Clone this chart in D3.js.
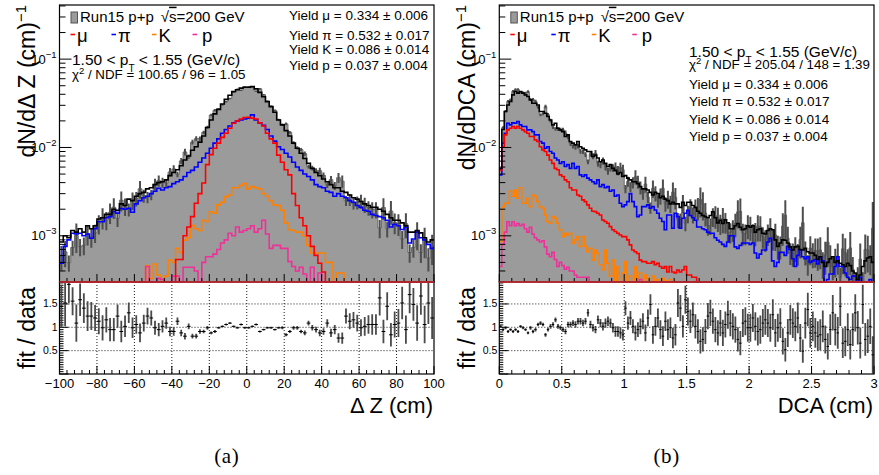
<!DOCTYPE html>
<html><head><meta charset="utf-8">
<script src="https://cdn.jsdelivr.net/npm/d3@7"></script>
<style>body{margin:0;background:#fff}svg{display:block}text{font-family:"Liberation Sans",Arial,Helvetica,sans-serif;fill:#000}</style>
</head><body><svg id="c" width="879" height="475"></svg>
<script>
// ---------------- Panel (a): Delta Z, 100 bins from -100 to 100 ----------------
const dzRange = [-100, 100];
const dzTicks = [-100, -80, -60, -40, -20, 0, 20, 40, 60, 80, 100];
const fitA = [0.00085,0.0010,0.00095,0.00115,0.0011,0.0012,0.0011,0.0013,0.0012,0.0013,
 0.00155,0.0016,0.00175,0.00175,0.0020,0.00195,0.0023,0.0022,0.0026,0.0025,
 0.0028,0.0030,0.0031,0.0034,0.0035,0.0038,0.0040,0.0041,0.0043,0.0048,
 0.0052,0.0056,0.0062,0.0072,0.0080,0.0093,0.0102,0.0115,0.0135,0.0168,
 0.0205,0.024,0.027,0.031,0.035,0.039,0.043,0.045,0.047,0.048,
 0.048,0.049,0.046,0.042,0.0375,0.033,0.029,0.025,0.0205,0.018,
 0.0155,0.0135,0.0112,0.0098,0.0086,0.0075,0.0066,0.0058,0.0052,0.0048,
 0.0044,0.0041,0.0038,0.0035,0.0035,0.0032,0.0031,0.0029,0.0027,0.0026,
 0.00245,0.0023,0.0022,0.0021,0.0021,0.0020,0.0019,0.00175,0.0016,0.0015,
 0.0015,0.0014,0.0013,0.0011,0.0011,0.00115,0.00108,0.00095,0.00085,0.0009];
const piA = [0.00049,0.00076,0.0009,0.00107,0.00105,0.00107,0.0010,0.00105,0.00094,0.0012,
 0.00144,0.00144,0.0016,0.00165,0.00187,0.0018,0.00204,0.0020,0.00205,0.00185,
 0.0023,0.0025,0.0027,0.0028,0.0030,0.0032,0.00346,0.0033,0.0035,0.0036,
 0.0039,0.0041,0.0043,0.0047,0.0052,0.0055,0.0060,0.0068,0.0076,0.0086,
 0.0098,0.0112,0.0125,0.0145,0.016,0.0175,0.019,0.0198,0.0205,0.021,
 0.0214,0.0234,0.0205,0.019,0.0178,0.016,0.0135,0.0118,0.0102,0.0095,
 0.0086,0.0078,0.0068,0.0060,0.0055,0.0050,0.0047,0.0043,0.0038,0.0036,
 0.0035,0.0032,0.0031,0.0028,0.0030,0.0028,0.0027,0.0025,0.0024,0.0022,
 0.0021,0.00195,0.0019,0.00175,0.0017,0.00165,0.0016,0.0015,0.00126,0.00135,
 0.0013,0.00118,0.00125,0.00083,0.00092,0.0011,0.00095,0.0009,0.0008,0.00072];
const muA = [0,0,0,0,0,0,0,0,0,0, 0,0,0,0,0,0,0,0,0,0, 0,0,0,0,0,0,0,0,0,0,
 0,0.00054,0.00054,0.0010,0.00126,0.00165,0.00234,0.0030,0.00396,0.0064,
 0.0083,0.0098,0.0112,0.013,0.0145,0.0165,0.0188,0.020,0.021,0.0218,
 0.022,0.0215,0.021,0.019,0.0175,0.0145,0.0125,0.0112,0.0082,0.0068,
 0.0056,0.0049,0.0030,0.0022,0.0016,0.0013,0.0010,0.00076,0.0006,0.00049,
 0.00039,0,0,0,0,0,0,0,0,0, 0,0,0,0,0,0,0,0,0,0, 0,0,0,0,0,0,0,0,0,0];
const kA = [0,0,0,0,0,0,0,0,0,0, 0,0,0,0,0,0,0,0,0,0, 0,0,0,
 0.00046,0.00033,0.00048,0.00036,0.00032,0.00035,0.00053,
 0.0005,0.00072,0.00065,0.00089,0.00095,0.00131,0.0012,0.00115,0.0015,0.00145,
 0.00187,0.0018,0.00224,0.0024,0.00278,0.0029,0.0035,0.0035,0.0037,0.0039,
 0.0034,0.0036,0.0035,0.0034,0.0030,0.0028,0.0025,0.00224,0.0022,0.00195,
 0.0014,0.00117,0.00115,0.0011,0.0011,0.0010,0.00078,0.00064,0.00064,0.00064,
 0.00064,0.0005,0.0005,0,0.00038,0.00038,0,0,0,0,
 0,0,0,0,0,0,0,0,0,0, 0,0,0,0,0,0,0,0,0,0, 0,0,0,0];
const pA = [0,0,0,0,0,0,0,0,0,0, 0,0,0,0,0,0,0,0,0,0, 0,0,0,
 0.00045,0,0,0.00033,0.00032,0,0,
 0.00035,0.00035,0,0.00044,0.00044,0.00044,0.0004,0,0.0005,0.00058,
 0.00058,0.00062,0.0007,0.00083,0.0009,0.00107,0.001,0.00126,0.0011,0.00115,
 0.0012,0.0013,0.0011,0.0012,0.0015,0.00105,0.00072,0.00078,0.00078,0.00072,
 0.00072,0.00051,0.00045,0.0004,0.00044,0.00037,0,0.00044,0,0.00038,
 0,0,0,0,0,0,0,0,0,0, 0,0,0,0,0,0,0,0,0,0, 0,0,0,0,0,0,0,0,0,0];
const ratioA = [1.45,1.52,1.92,1.56,1.09,1.59,1.41,1.24,1.24,1.2,
 1.13,0.99,1.16,0.95,0.95,1.24,0.91,1.02,1.31,0.99,
 1.06,0.88,1.09,1.24,1.2,0.99,0.95,1.02,1.09,0.91,
 0.91,1.13,0.88,0.81,1.02,0.81,0.81,0.91,0.91,0.99,
 0.88,0.91,0.99,1.02,1.06,1.09,1.02,0.99,1.06,0.99,
 0.99,1.02,1.06,0.91,0.95,0.99,0.99,0.95,0.99,0.99,
 0.84,0.91,0.99,0.99,0.91,0.88,1.09,0.99,0.95,0.88,
 0.91,1.09,0.88,0.95,0.77,0.77,1.24,1.13,1.16,1.09,
 0.99,1.02,1.06,1.06,1.06,1.63,0.91,1.45,0.84,1.06,
 1.09,1.52,0.95,1.7,1.49,1.09,1.67,1.06,1.52,1.2];
const ratioErrA = [0.45,0.5,0.4,0.3,0.4,0.35,0.32,0.32,0.3,0.28,
 0.28,0.27,0.27,0.25,0.25,0.25,0.23,0.23,0.22,0.22,
 0.2,0.2,0.18,0.18,0.16,0.15,0.14,0.13,0.12,0.1,
 0.09,0.08,0.07,0.07,0.06,0.05,0.05,0.05,0.04,0.04,
 0.03,0.03,0.02,0.02,0.02,0.02,0.02,0.02,0.02,0.02,
 0.02,0.02,0.02,0.02,0.02,0.02,0.02,0.02,0.02,0.03,
 0.03,0.03,0.04,0.04,0.04,0.05,0.05,0.06,0.06,0.07,
 0.07,0.08,0.09,0.1,0.1,0.12,0.16,0.17,0.17,0.18,
 0.18,0.2,0.2,0.22,0.22,0.38,0.25,0.3,0.25,0.28,
 0.3,0.35,0.3,0.4,0.35,0.38,0.4,0.4,0.45,0.45];

// ---------------- Panel (b): DCA, 150 bins from 0 to 3 ----------------
const dcaRange = [0, 3];
const dcaTicks = [0, 0.5, 1, 1.5, 2, 2.5, 3];
const fitB = [0.0058,0.016,0.0255,0.0303,0.0331,0.0394,0.043,0.0412,0.043,0.0412,
 0.0394,0.0378,0.0346,0.0317,0.0317,0.0303,0.0255,0.0255,0.0244,0.0224,
 0.0205,0.018,0.0188,0.0165,0.0158,0.0151,0.0133,0.0139,0.0117,0.0112,
 0.0107,0.0117,0.0102,0.0098,0.0094,0.009,0.009,0.0079,0.0082,0.0076,
 0.0069,0.0072,0.0066,0.0061,0.0064,0.0058,0.0055,0.005,0.0052,0.0047,
 0.0048,0.0045,0.0043,0.0041,0.0041,0.0039,0.0036,0.0034,0.0034,0.0033,
 0.0031,0.0029,0.0031,0.003,0.0027,0.0028,0.0026,0.0025,0.0023,0.0024,
 0.0023,0.0023,0.0021,0.0024,0.0022,0.0024,0.0024,0.0022,0.0021,0.0019,
 0.0018,0.0017,0.00165,0.0016,0.0017,0.00187,0.0016,0.0014,0.0015,0.00138,
 0.00152,0.0014,0.0012,0.0012,0.0013,0.00138,0.00125,0.00117,0.0012,0.0013,
 0.00125,0.0013,0.0011,0.00117,0.0012,0.00107,0.00105,0.00115,0.0012,0.00117,
 0.0009,0.00076,0.00083,0.0009,0.00089,0.00083,0.00075,0.00069,0.00075,0.00076,
 0.0007,0.00069,0.00072,0.00066,0.00064,0.00064,0.0006,0.00054,0.00058,0.0005,
 0.00045,0.0005,0.00055,0.00058,0.0005,0.00052,0.00049,0.00047,0.00045,0.00049,
 0.00046,0.0004,0.00038,0.00032,0.00036,0.00045,0.00052,0.00056,0.00058,0.0005];
const piB = [0.0049,0.0112,0.0145,0.0188,0.018,0.019,0.0188,0.0197,0.018,0.0173,
 0.0173,0.0158,0.0158,0.0151,0.0139,0.0139,0.0117,0.0112,0.0098,0.0102,
 0.009,0.0086,0.0076,0.0072,0.0066,0.0069,0.0061,0.0064,0.0058,0.0066,
 0.0058,0.0061,0.0049,0.0047,0.0049,0.0045,0.0043,0.0041,0.0039,0.0043,
 0.0036,0.0038,0.0035,0.0036,0.0032,0.0033,0.0028,0.0029,0.00234,0.00214,
 0.00224,0.00244,0.003,0.00244,0.00214,0.00165,0.00172,0.00214,0.00214,0.00224,
 0.00205,0.00214,0.00196,0.0018,0.00158,0.00145,0.00117,0.00172,0.00172,0.00122,
 0.0018,0.00165,0.00122,0.00158,0.0018,0.00195,0.0017,0.0016,0.0015,0.00126,
 0.00126,0.0012,0.00117,0.0011,0.00107,0.00107,0.00095,0.00089,0.00085,0.0008,
 0.00076,0.00085,0.001,0.001,0.00075,0.00072,0.00078,0.00083,0.00083,0.00083,
 0.0008,0.00083,0.00064,0.00056,0.00062,0.00069,0.00069,0.00085,0.00094,0.00052,
 0.00045,0.0005,0.00065,0.00065,0.0006,0.00076,0.0007,0.00055,0.00045,0.0006,
 0.00069,0.00058,0.00055,0.00058,0.0005,0.00052,0.00054,0.00048,0.00058,0.00052,
 0.00028,0.00032,0.00037,0.00037,0.00045,0.00058,0.00045,0.00045,0.00038,0.00034,
 0.00032,0.00035,0.00035,0.00028,0.00034,0.00028,0.00028,0.00028,0.00032,0.00028];
const muB = [0.0055,0.0102,0.0139,0.0158,0.0165,0.0173,0.0165,0.0173,0.0165,0.0158,
 0.0151,0.0145,0.0133,0.0133,0.0122,0.0117,0.0102,0.0094,0.009,0.0082,
 0.0072,0.0066,0.0058,0.0056,0.0049,0.0047,0.0043,0.0041,0.0035,0.0033,
 0.0033,0.0029,0.0028,0.00255,0.00244,0.00224,0.00205,0.0019,0.00188,0.0018,
 0.00172,0.00151,0.00145,0.00139,0.00127,0.00117,0.00112,0.00107,0.00102,0.00098,
 0.00098,0.0009,0.00079,0.00069,0.00066,0.00063,0.00053,0.00051,0.00051,0.00049,
 0.00049,0.00051,0.00047,0.00049,0.00045,0.00043,0.00045,0.00039,0.00045,0.00039,
 0.00038,0.00041,0.00039,0.00041,0.00045,0.00036,0.00036,0.00034,0.00034,0,
 0,0,0,0,0,0,0,0,0,0, 0,0,0,0,0,0,0,0,0,0, 0,0,0,0,0,0,0,0,0,0,
 0,0,0,0,0,0,0,0,0,0, 0,0,0,0,0,0,0,0,0,0, 0,0,0,0,0,0,0,0,0,0,
 0,0,0,0,0,0,0,0,0,0, 0,0,0,0,0,0,0,0,0,0];
const kB = [0.00086,0.00214,0.00234,0.00234,0.0032,0.0028,0.0033,0.00266,0.0035,0.00234,
 0.00234,0.00266,0.00214,0.0029,0.0028,0.00244,0.00214,0.00205,0.00172,0.00145,
 0.00139,0.00165,0.00158,0.00139,0.00117,0.00098,0.00107,0.00102,0.00107,0.00082,
 0.0009,0.00098,0.00076,0.00098,0.00076,0.00066,0.00072,0.00053,0.00069,0.00063,
 0.00047,0.00041,0.00069,0.00049,0.00035,0.00053,0,0.00045,0,0.00038,
 0.00051,0,0.00035,0,0.00045,0.00033,0.00038,0,0.00036,0.00033,
 0,0.00035,0,0.00032,0,0.00033,0.00031,0,0.00032,0,
 0,0,0,0,0,0,0,0,0,0, 0,0,0,0,0,0,0,0,0,0, 0,0,0,0,0,0,0,0,0,0,
 0,0,0,0,0,0,0,0,0,0, 0,0,0,0,0,0,0,0,0,0, 0,0,0,0,0,0,0,0,0,0,
 0,0,0,0,0,0,0,0,0,0, 0,0,0,0,0,0,0,0,0,0];
const pB = [0.00045,0.0008,0.0011,0.00144,0.0013,0.00144,0.0013,0.00138,0.0013,0.00135,
 0.0012,0.0011,0.00125,0.00105,0.00095,0.0009,0.00085,0.00088,0.00075,0.00062,
 0.00058,0.00065,0.00054,0.00045,0.0005,0.00046,0.00042,0.00044,0.0004,0.0004,
 0.00036,0.00034,0.00034,0.00034,0.00034,0.00034,0,0,0,0,
 0,0,0,0,0,0,0,0,0,0, 0,0,0,0,0,0,0.00032,0,0,0,
 0,0,0,0,0,0,0,0,0,0, 0,0,0,0,0,0,0,0,0,0, 0,0,0,0,0,0,0,0,0,0,
 0,0,0,0,0,0,0,0,0,0, 0,0,0,0,0,0,0,0,0,0, 0,0,0,0,0,0,0,0,0,0,
 0,0,0,0,0,0,0,0,0,0, 0,0,0,0,0,0,0,0,0,0, 0,0,0,0,0,0,0,0,0,0];
const ratioB = [1.02,0.95,0.99,0.91,0.95,0.91,0.95,0.91,1.02,0.99,
 0.95,0.88,0.99,0.91,0.95,1.06,1.09,1.06,0.84,0.95,
 1.02,1.06,1.16,1.02,0.99,0.95,0.91,1.06,1.06,1.09,
 1.06,1.13,1.13,1.09,1.13,1.31,1.06,0.99,0.95,1.16,
 1.09,1.02,1.09,1.13,1.09,0.99,0.91,0.91,0.88,0.84,
 1.41,1.09,1.2,1.02,0.88,0.95,1.02,1.13,0.88,1.2,
 1.49,0.84,1.02,1.2,0.95,0.81,1.13,0.95,0.99,0.77,
 0.84,1.52,1.41,1.02,1.59,1.34,1.13,1.27,1.02,0.91,
 0.7,0.74,0.91,1.24,1.31,1.13,0.95,0.88,1.09,0.88,
 1.06,1.27,1.09,1.02,0.95,0.74,0.66,1.09,1.13,0.99,
 0.99,1.2,1.02,0.91,0.95,1.09,1.16,1.09,0.99,1.27,
 0.88,0.99,1.09,0.7,0.52,0.88,1.16,1.09,1.02,1.2,
 0.77,0.49,1.09,1.38,0.88,1.02,0.88,0.81,0.84,1.02,
 0.74,0.59,0.95,1.31,0.95,0.88,1.45,0.66,0.7,0.95,
 0.63,0.95,1.31,0.99,0.66,1.49,0.74,0.81,1.02,0.41];
const ratioErrB = [0.03,0.03,0.03,0.03,0.03,0.03,0.03,0.03,0.03,0.03,
 0.03,0.03,0.04,0.04,0.04,0.04,0.04,0.04,0.04,0.04,
 0.05,0.05,0.05,0.05,0.05,0.05,0.06,0.06,0.06,0.06,
 0.07,0.07,0.07,0.07,0.07,0.08,0.08,0.08,0.08,0.09,
 0.09,0.09,0.1,0.1,0.1,0.1,0.11,0.11,0.12,0.12,
 0.15,0.14,0.15,0.15,0.16,0.16,0.17,0.17,0.18,0.18,
 0.22,0.19,0.2,0.2,0.2,0.21,0.21,0.22,0.22,0.22,
 0.23,0.3,0.28,0.24,0.3,0.3,0.25,0.26,0.26,0.26,
 0.26,0.26,0.27,0.28,0.28,0.27,0.27,0.27,0.28,0.28,
 0.28,0.3,0.28,0.28,0.28,0.26,0.26,0.3,0.3,0.3,
 0.3,0.3,0.3,0.3,0.3,0.3,0.32,0.3,0.3,0.33,
 0.3,0.3,0.32,0.28,0.25,0.3,0.32,0.32,0.32,0.33,
 0.3,0.25,0.33,0.36,0.32,0.32,0.32,0.32,0.33,0.34,
 0.3,0.28,0.33,0.38,0.34,0.34,0.42,0.32,0.32,0.35,
 0.32,0.35,0.4,0.36,0.33,0.42,0.35,0.36,0.38,0.4];

// ---------------- Text ----------------
const yieldLines = ["Yield \u03bc = 0.334 \u00b1 0.006","Yield \u03c0 = 0.532 \u00b1 0.017","Yield K = 0.086 \u00b1 0.014","Yield p = 0.037 \u00b1 0.004"];
const legendNames = ["\u03bc","\u03c0","K","p"];
const colors = {mu:"#ff0000", pi:"#0000ff", k:"#ff8000", p:"#f0309a"};

// ---------------- Drawing ----------------
const svg = d3.select("#c");
const TOP = 5, MID = 282, BOT = 374;
const yTop = d3.scaleLog().domain([3.0e-4, 0.41]).range([MID, TOP]);
const yRat = d3.scaleLinear().domain([0, 1.97]).range([BOT, MID]);
const defs = svg.append("defs");

function panel(o) {
  const x = d3.scaleLinear().domain(o.range).range([o.L, o.R]);
  const n = o.fit.length;
  const w = (o.range[1] - o.range[0]) / n;
  const edges = d3.range(n + 1).map(i => o.range[0] + i * w);
  const centers = d3.range(n).map(i => o.range[0] + (i + 0.5) * w);
  const ymin = yTop.domain()[0];
  const yc = v => v <= ymin ? MID : Math.max(TOP - 2, yTop(v));

  const data = o.fit.map((f, i) => f / o.ratio[i]);
  const dataErr = data.map((d, i) => d * o.ratioErr[i] / o.ratio[i]);

  defs.append("clipPath").attr("id", "ct" + o.id).append("rect")
    .attr("x", o.L).attr("y", TOP).attr("width", o.R - o.L).attr("height", MID - TOP + 1.5);
  defs.append("clipPath").attr("id", "cr" + o.id).append("rect")
    .attr("x", o.L).attr("y", MID).attr("width", o.R - o.L).attr("height", BOT - MID);

  // ----- top pad
  const gt = svg.append("g").attr("clip-path", `url(#ct${o.id})`);
  const pts = arr => arr.map((v, i) => [edges[i], v]).concat([[edges[n], arr[n - 1]]]);
  const area = d3.area().curve(d3.curveStepAfter).x(d => x(d[0])).y0(MID).y1(d => yc(d[1]));
  const line = d3.line().curve(d3.curveStepAfter).x(d => x(d[0])).y(d => yc(d[1]));
  gt.append("path").attr("d", area(pts(data))).attr("fill", "#9b9b9b");
  gt.append("path").attr("d", line(pts(data))).attr("fill", "none").attr("stroke", "#6a6a6a").attr("stroke-width", 1);
  gt.selectAll("line.de").data(centers).join("line").attr("class", "de")
    .attr("x1", c => x(c)).attr("x2", c => x(c))
    .attr("y1", (c, i) => yc(Math.max(data[i] - dataErr[i], 1e-9)))
    .attr("y2", (c, i) => yc(data[i] + dataErr[i]))
    .attr("stroke", "#4e4e4e").attr("stroke-width", 2);
  [[o.pi, colors.pi], [o.k, colors.k], [o.p, colors.p], [o.mu, colors.mu]].forEach(([arr, col]) => {
    gt.append("path").attr("d", line(pts(arr))).attr("fill", "none").attr("stroke", col).attr("stroke-width", 1.6);
  });
  gt.append("path").attr("d", line(pts(o.fit))).attr("fill", "none").attr("stroke", "#000").attr("stroke-width", 1.6);

  // frame top
  svg.append("rect").attr("x", o.L).attr("y", TOP).attr("width", o.R - o.L).attr("height", MID - TOP)
    .attr("fill", "none").attr("stroke", "#000").attr("stroke-width", 1.2);

  // log y ticks
  const ga = svg.append("g").attr("stroke", "#000").attr("stroke-width", 1);
  for (let e = -4; e <= 0; e++) for (let k = 1; k <= 9; k++) {
    const v = k * Math.pow(10, e);
    if (v < yTop.domain()[0] || v > yTop.domain()[1]) continue;
    const yy = yTop(v);
    ga.append("line").attr("x1", o.L).attr("x2", o.L + (k === 1 ? 12 : 6)).attr("y1", yy).attr("y2", yy);
    if (k === 1) {
      const t = svg.append("text").attr("x", o.L - 3).attr("y", yy + 4.5).attr("text-anchor", "end").attr("font-size", 13);
      t.append("tspan").text("10");
      t.append("tspan").attr("dy", -6).attr("font-size", 9.5).text("\u2212" + (-e));
    }
  }
  // x ticks (top pad bottom, ratio bottom)
  const majors = o.ticks;
  const minorStep = (majors[1] - majors[0]) / o.minorDiv;
  const minors = d3.range(o.range[0], o.range[1] + minorStep / 2, minorStep);
  minors.forEach(v => {
    const isMaj = majors.some(m => Math.abs(m - v) < 1e-9);
    const len = isMaj ? 8 : 4;
    ga.append("line").attr("x1", x(v)).attr("x2", x(v)).attr("y1", MID).attr("y2", MID - len);
    ga.append("line").attr("x1", x(v)).attr("x2", x(v)).attr("y1", BOT).attr("y2", BOT - len);
  });

  // ----- ratio pad
  const gr = svg.append("g");
  majors.filter(v => v > o.range[0] && v < o.range[1]).forEach(v => {
    gr.append("line").attr("x1", x(v)).attr("x2", x(v)).attr("y1", MID).attr("y2", BOT)
      .attr("stroke", "#000").attr("stroke-width", 0.9).attr("stroke-dasharray", "1,2");
  });
  [0.5, 1, 1.5].forEach(v => {
    gr.append("line").attr("x1", o.L).attr("x2", o.R).attr("y1", yRat(v)).attr("y2", yRat(v))
      .attr("stroke", "#000").attr("stroke-width", 0.9).attr("stroke-dasharray", "1,2");
  });
  const gp = svg.append("g").attr("clip-path", `url(#cr${o.id})`);
  gp.selectAll("line.re").data(centers).join("line").attr("class", "re")
    .attr("x1", c => x(c)).attr("x2", c => x(c))
    .attr("y1", (c, i) => yRat(o.ratio[i] - o.ratioErr[i]))
    .attr("y2", (c, i) => yRat(o.ratio[i] + o.ratioErr[i]))
    .attr("stroke", "#4a4a4a").attr("stroke-width", 1.8);
  gp.selectAll("line.rh").data(centers).join("line").attr("class", "rh")
    .attr("x1", (c, i) => x(edges[i])).attr("x2", (c, i) => x(edges[i + 1]))
    .attr("y1", (c, i) => yRat(o.ratio[i])).attr("y2", (c, i) => yRat(o.ratio[i]))
    .attr("stroke", "#000").attr("stroke-width", 1);
  svg.append("rect").attr("x", o.L).attr("y", MID).attr("width", o.R - o.L).attr("height", BOT - MID)
    .attr("fill", "none").attr("stroke", "#000").attr("stroke-width", 1.2);
  // clamped (zero) histogram bins lie on the bottom edge of the top pad
  svg.append("line").attr("x1", o.L).attr("x2", o.R).attr("y1", MID).attr("y2", MID)
    .attr("stroke", "#e0303a").attr("stroke-width", 1.4);
  // ratio y ticks
  d3.range(0, 1.96, 0.05).forEach(v => {
    const maj = Math.abs(v / 0.5 - Math.round(v / 0.5)) < 1e-6;
    ga.append("line").attr("x1", o.L).attr("x2", o.L + (maj ? 9 : 4)).attr("y1", yRat(v)).attr("y2", yRat(v));
  });
  [0.5, 1, 1.5].forEach(v => {
    svg.append("text").attr("x", o.L - 2).attr("y", yRat(v) + 3.5).attr("text-anchor", "end")
      .attr("font-size", 10.5).text(String(v));
  });
  majors.forEach(v => {
    svg.append("text").attr("x", x(v)).attr("y", 388).attr("text-anchor", "middle").attr("font-size", 13)
      .text(v < 0 ? "\u2212" + (-v) : String(v));
  });

  // ----- titles
  const yt = svg.append("text").attr("transform", `translate(${o.L - 24.5},${TOP}) rotate(-90)`)
    .attr("text-anchor", "end").attr("font-size", 23);
  yt.append("tspan").text(o.ytitle + " (cm)");
  yt.append("tspan").attr("dy", -9).attr("font-size", 15).text("\u22121");
  svg.append("text").attr("transform", `translate(${o.L - 24.5},${(MID + BOT) / 2}) rotate(-90)`)
    .attr("text-anchor", "middle").attr("font-size", 23).text("fit / data");
  svg.append("text").attr("x", o.R - 1).attr("y", 413).attr("text-anchor", "end").attr("font-size", 22).text(o.xtitle);
  svg.append("text").attr("x", (o.L + o.R) / 2 - 20).attr("y", 463).attr("text-anchor", "middle")
    .attr("font-size", 21).attr("letter-spacing", 0.6).style("font-family", "'Liberation Serif','DejaVu Serif',serif").text(o.tag);

  // ----- legend
  const lx = o.L;
  svg.append("rect").attr("x", lx + 11.5).attr("y", 12).attr("width", 6.5).attr("height", 11)
    .attr("fill", "#9b9b9b").attr("stroke", "#555").attr("stroke-width", 1);
  const lt = svg.append("text").attr("x", lx + 20.5).attr("y", 21.7).attr("font-size", 15);
  lt.append("tspan").text("Run15 p+p");
  lt.append("tspan").attr("dx", 7).text("\u221a");
  lt.append("tspan").attr("text-decoration", "overline").text("s");
  lt.append("tspan").text("=200 GeV");
  const legX = [11, 52, 92.5, 133];
  const legCol = [colors.mu, colors.pi, colors.k, colors.p];
  legendNames.forEach((nm, i) => {
    svg.append("line").attr("x1", lx + legX[i]).attr("x2", lx + legX[i] + 4.5).attr("y1", 34.5).attr("y2", 34.5)
      .attr("stroke", legCol[i]).attr("stroke-width", 1.6);
    svg.append("text").attr("x", lx + legX[i] + 6.5 + (i === 3 ? 3 : 0)).attr("y", 42).attr("font-size", 18.5).text(nm);
  });

  // ----- fit info
  const pt = svg.append("text").attr("x", o.ptX).attr("y", o.ptY).attr("font-size", 15.5);
  pt.append("tspan").text("1.50 < p");
  pt.append("tspan").attr("dy", 7).attr("font-size", 10).text("T");
  pt.append("tspan").attr("dy", -7).text(" < 1.55 (GeV/c)");
  const ct = svg.append("text").attr("x", o.ptX).attr("y", o.chiY).attr("font-size", 13.3);
  ct.append("tspan").text("\u03c7");
  ct.append("tspan").attr("dy", -5).attr("font-size", 9.5).text("2");
  ct.append("tspan").attr("dy", 5).text(o.chi);
  yieldLines.forEach((s, i) => {
    svg.append("text").attr("x", o.yX).attr("y", o.yY[i]).attr("font-size", 13.5).text(s);
  });
}

panel({id: "a", L: 59.5, R: 434, range: dzRange, ticks: dzTicks, minorDiv: 5,
  fit: fitA, pi: piA, mu: muA, k: kA, p: pA, ratio: ratioA, ratioErr: ratioErrA,
  ytitle: "dN/d\u0394 Z", xtitle: "\u0394 Z (cm)", tag: "(a)",
  ptX: 72, ptY: 65, chiY: 78.5, chi: " / NDF = 100.65 / 96 = 1.05",
  yX: 289, yY: [20, 39.5, 53.5, 70]});
panel({id: "b", L: 499.3, R: 874, range: dcaRange, ticks: dcaTicks, minorDiv: 5,
  fit: fitB, pi: piB, mu: muB, k: kB, p: pB, ratio: ratioB, ratioErr: ratioErrB,
  ytitle: "dN/dDCA", xtitle: "DCA (cm)", tag: "(b)",
  ptX: 689, ptY: 56.5, chiY: 69, chi: " / NDF = 205.04 / 148 = 1.39",
  yX: 689, yY: [88.5, 106, 123.5, 140.5]});
</script>
</body></html>
